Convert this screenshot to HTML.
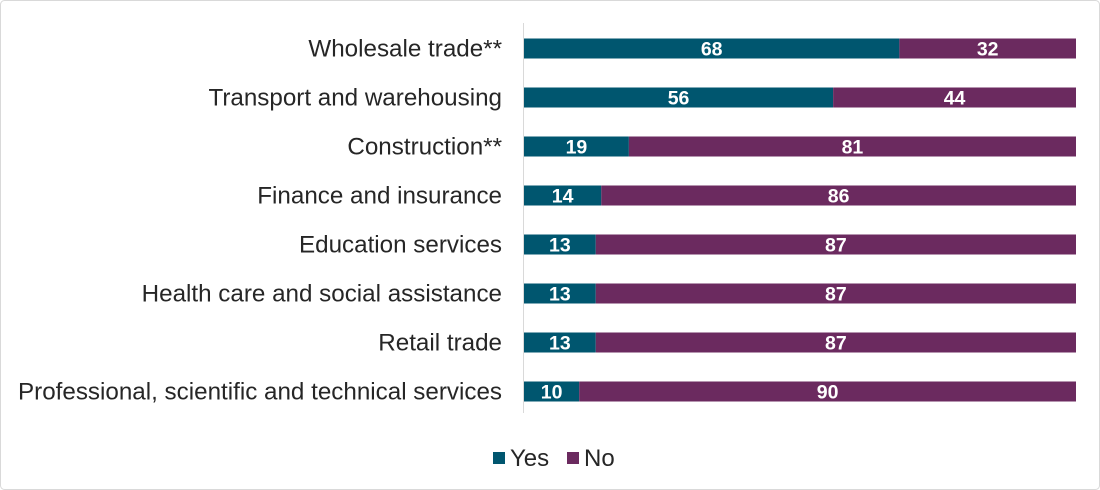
<!DOCTYPE html>
<html><head><meta charset="utf-8"><style>
body{margin:0;background:#fff}
svg{display:block;font-family:"Liberation Sans",Arial,sans-serif}
</style></head><body>
<svg id="chart" width="1100" height="490" viewBox="0 0 1100 490">
<rect x="0.5" y="0.5" width="1099" height="489" rx="4" fill="#fff" stroke="#d9d9d9"/>
<g id="bars"></g>
<line x1="523.5" y1="23" x2="523.5" y2="413" stroke="#d9d9d9"/>
<g>
<rect x="493" y="452" width="12" height="12" fill="#00566f"/>
<text x="510" y="466" font-size="24" fill="#262626">Yes</text>
<rect x="567" y="452" width="12" height="12" fill="#6b2a5f"/>
<text x="584" y="466" font-size="24" fill="#262626">No</text>
</g>
</svg>
<script>
const categories=["Wholesale trade**","Transport and warehousing","Construction**","Finance and insurance","Education services","Health care and social assistance","Retail trade","Professional, scientific and technical services"];
const yesValues=[68,56,19,14,13,13,13,10];
const noValues=[32,44,81,86,87,87,87,90];
const NS="http://www.w3.org/2000/svg";
const x0=524,x1=1076,top0=24,rowH=49,barH=20;
const xs=v=>x0+(x1-x0)*v/100;
const yc=i=>top0+rowH*i+rowH/2;
const g=document.getElementById('bars');
function mk(t,a){const e=document.createElementNS(NS,t);for(const k in a)e.setAttribute(k,a[k]);g.appendChild(e);return e;}
categories.forEach((c,i)=>{
 const y=yc(i);
 const lab=mk('text',{x:502,y:y+8,'font-size':24.2,'text-anchor':'end',fill:'#262626'});
 lab.textContent=c;
 
 
 const yv=yesValues[i],nv=noValues[i];
 const r1=mk('rect',{x:xs(0),y:y-barH/2,width:xs(yv)-xs(0),height:barH,fill:'#00566f'});
 
 
 const r2=mk('rect',{x:xs(yv),y:y-barH/2,width:xs(yv+nv)-xs(yv),height:barH,fill:'#6b2a5f'});
 
 
 const t1=mk('text',{x:(xs(0)+xs(yv))/2,y:y+7,'font-size':19.5,'font-weight':'bold','text-anchor':'middle',fill:'#fff'});
 t1.textContent=yv;
 
 
 const t2=mk('text',{x:(xs(yv)+xs(yv+nv))/2,y:y+7,'font-size':19.5,'font-weight':'bold','text-anchor':'middle',fill:'#fff'});
 t2.textContent=nv;
 
 
});
</script>
</body></html>
